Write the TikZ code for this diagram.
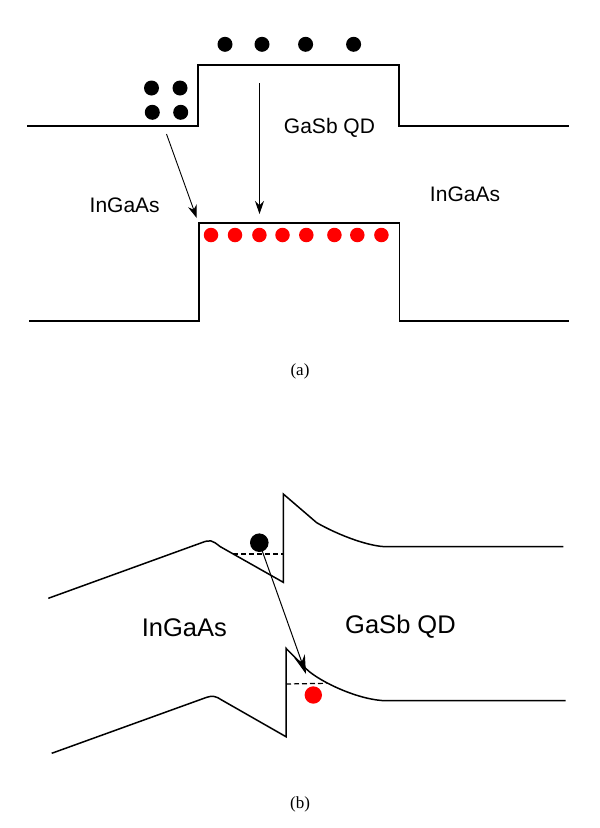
\documentclass[tikz,border=0pt]{standalone}
\usepackage{fontspec}
\setmainfont{Liberation Serif}
\newfontfamily\labfont{Liberation Sans}
\usetikzlibrary{arrows.meta}
\begin{document}
\begin{tikzpicture}[x=1pt,y=-1pt,
  band/.style={line width=1.7pt, line join=miter},
  blackdot/.style={circle, fill=black, inner sep=0pt, minimum size=15pt},
  reddot/.style={circle, fill=red, inner sep=0pt, minimum size=14.5pt},
  trans/.style={line width=0.9pt, -{Stealth[length=13pt, width=9pt]}},
  lvl/.style={dashed, dash pattern=on 5pt off 3pt, line width=1.2pt},
  lbla/.style={font=\labfont\fontsize{21}{24}\selectfont, anchor=base, inner sep=0pt},
  lblb/.style={font=\labfont\fontsize{25.5}{28}\selectfont, anchor=base, inner sep=0pt},
  captext/.style={font=\fontsize{17}{19}\selectfont, anchor=base, inner sep=0pt}]
\useasboundingbox (0,0) rectangle (600,828);

% ---------- (a) ----------
\draw[band] (27.4,126) -- (197.7,126) -- (197.7,65) -- (399,65) -- (399,126) -- (569.3,126);
\draw[band] (29,321) -- (199,321) -- (199,222.7) -- (399.4,222.7) -- (399.4,321) -- (569.3,321);

\node[blackdot] (t1) at (225,44.3) {};
\node[blackdot] (t2) at (262,44.3) {};
\node[blackdot] (t3) at (305.6,44.3) {};
\node[blackdot] (t4) at (353.6,44.3) {};

\node[blackdot] (s1) at (151.5,88) {};
\node[blackdot] (s2) at (180,88) {};
\node[blackdot] (s3) at (152.3,112.3) {};
\node[blackdot] (s4) at (180.7,112.3) {};

\foreach \i/\x in {1/211,2/235,3/259.4,4/282.5,5/306.3,6/334.4,7/357.3,8/381.4}
  \node[reddot] (r\i) at (\x,235) {};

\coordinate (a1s) at (166.5,134);
\coordinate (a1e) at (196.7,218);
\coordinate (a2s) at (259.5,83.3);
\coordinate (a2e) at (259.5,214);
\draw[trans] (a1s) -- (a1e);
\draw[trans] (a2s) -- (a2e);

\node[lbla] (qa) at (329.5,133.3) {GaSb QD};
\node[lbla] (ia1) at (124.7,212.3) {InGaAs};
\node[lbla] (ia2) at (465,201) {InGaAs};
\node[captext] (capa) at (300,375) {(a)};

% ---------- (b) ----------
\draw[band, line width=1.5pt] (48.3,598.3) -- (201.7,542.7) .. controls (210,539.5) and (212,540) .. (220,546.5)
  -- (283.3,582.3) -- (283.3,494) -- (316.7,522.7)
  .. controls (340,536) and (370,546.7) .. (386.7,546.7) -- (563.3,546.7);
\draw[band, line width=1.5pt] (51.7,753.3) -- (206.7,697.3) .. controls (212,695.5) and (216,696) .. (221.7,700)
  -- (286,736.7) -- (286,648.3) -- (306.7,669.3)
  .. controls (320,682) and (360,700.7) .. (386.7,700.7) -- (565.7,700.7);

\coordinate (d1a) at (233.3,554);
\coordinate (d1b) at (283.3,554);
\coordinate (d2a) at (286,684);
\coordinate (d2b) at (326.7,683.3);
\draw[lvl] (d1a) -- (d1b);
\draw[lvl] (d2a) -- (d2b);

\node[blackdot, minimum size=18.6pt] (hb) at (259.3,542.7) {};
\node[reddot, minimum size=17.4pt] (eb) at (313.3,695) {};

\coordinate (be) at (306,674);
\draw[line width=1pt, -{Stealth[length=19pt, width=11pt]}] (hb.center) -- (be);

\node[lblb] (ib) at (184.4,636.7) {InGaAs};
\node[lblb] (qb) at (400.5,633.3) {GaSb QD};
\node[captext] (capb) at (300,808.5) {(b)};
\end{tikzpicture}
\end{document}
